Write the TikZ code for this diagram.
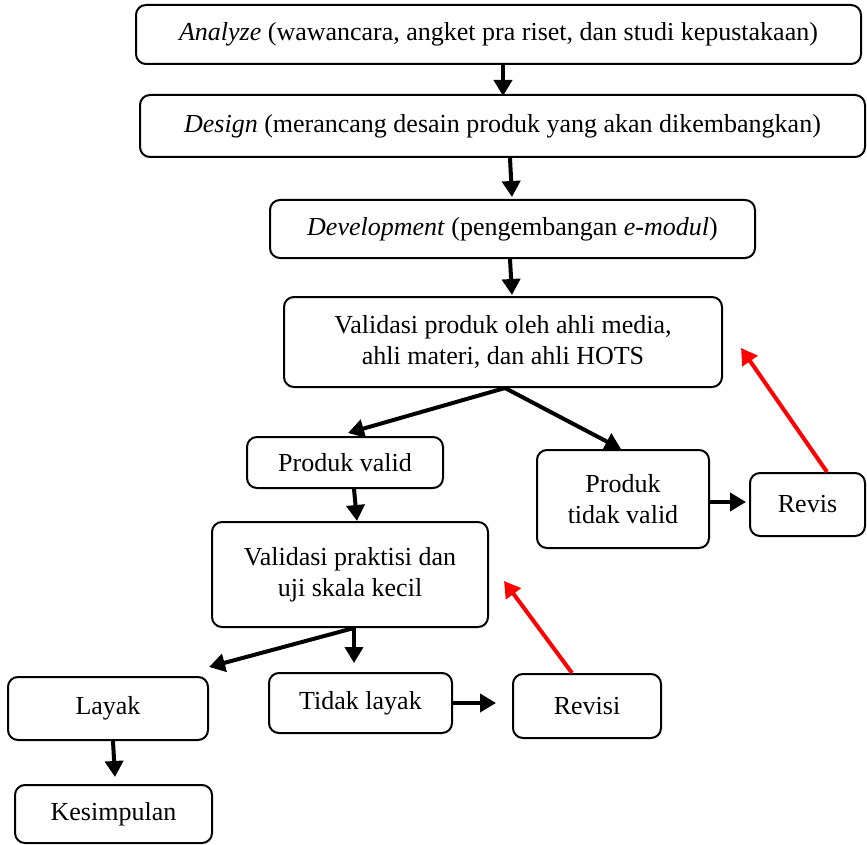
\documentclass[tikz,border=0pt]{standalone}
\usepackage{fontspec}
\setmainfont{Liberation Serif}
\usetikzlibrary{arrows.meta}
\tikzset{
  box/.style={draw=black, line width=2pt, rounded corners=10pt, rectangle, inner sep=0pt,
    align=center, font=\fontsize{26}{31}\selectfont},
  arr/.style={draw=black, line width=4pt, -{Triangle[length=16pt,width=18pt]}},
  redarr/.style={draw=red, line width=4pt, -{Triangle[length=16pt,width=18pt]}},
}
\begin{document}
\begin{tikzpicture}[x=1pt,y=-1pt]
\useasboundingbox (0,0) rectangle (867,845);
\node[box, minimum width=725pt, minimum height=59pt] (A) at (498.5,34.5)
  {\textit{Analyze} (wawancara, angket pra riset, dan studi kepustakaan)};
\node[box, minimum width=725pt, minimum height=62pt] (D) at (502.5,126)
  {\textit{Design} (merancang desain produk yang akan dikembangkan)};
\node[box, minimum width=485pt, minimum height=58pt] (Dev) at (512.5,229)
  {\textit{Development} (pengembangan \textit{e-modul})};
\node[box, minimum width=438pt, minimum height=90pt] (V) at (503,342)
  {Validasi produk oleh ahli media,\\ahli materi, dan ahli HOTS};
\node[box, minimum width=196pt, minimum height=51pt] (PV) at (345,462.5) {Produk valid};
\node[box, minimum width=172pt, minimum height=98pt] (PTV) at (623,499) {Produk\\tidak valid};
\node[box, minimum width=115pt, minimum height=63pt] (Rv) at (807.5,504.5) {Revis};
\node[box, minimum width=276pt, minimum height=105pt] (PK) at (350,574.5)
  {Validasi praktisi dan\\uji skala kecil};
\node[box, minimum width=200pt, minimum height=63pt] (L) at (108,708.5) {Layak};
\node[box, minimum width=183pt, minimum height=60pt] (TL) at (360.5,703) {Tidak layak};
\node[box, minimum width=148pt, minimum height=64pt] (Rvi) at (587,706) {Revisi};
\node[box, minimum width=197pt, minimum height=58pt] (K) at (113.5,814) {Kesimpulan};

\draw[arr] ([xshift=4.5pt]A.south) -- ([xshift=0.5pt,yshift=-2pt]D.north);
\draw[arr] ([xshift=7.5pt]D.south) -- ([xshift=-0.5pt,yshift=2pt]Dev.north);
\draw[arr] ([xshift=-2.5pt]Dev.south) -- ([xshift=9pt,yshift=1pt]V.north);
\draw[arr] ([xshift=2pt]V.south) -- ([xshift=3pt,yshift=3pt]PV.north);
\draw[arr] ([xshift=2pt]V.south) -- ([xshift=-2pt]PTV.north);
\draw[arr] ([xshift=9pt]PV.south) -- ([xshift=7pt]PK.north);
\draw[arr] ([yshift=-3pt]PTV.east) -- ([xshift=-3pt,yshift=2.5pt]Rv.west);
\draw[redarr] ([xshift=19.5pt]Rv.north) -- ([xshift=18pt,yshift=-6pt]V.east);
\draw[arr] ([xshift=4pt]PK.south) -- ([yshift=9pt]L.north east);
\draw[arr] ([xshift=4pt]PK.south) -- ([xshift=-6.5pt,yshift=9pt]TL.north);
\draw[arr] (TL.east) -- ([xshift=-16pt,yshift=3pt]Rvi.west);
\draw[redarr] ([xshift=-15pt]Rvi.north) -- ([xshift=15pt,yshift=-6.5pt]PK.east);
\draw[arr] ([xshift=5pt]L.south) -- ([xshift=1.5pt,yshift=7pt]K.north);
\end{tikzpicture}
\end{document}
